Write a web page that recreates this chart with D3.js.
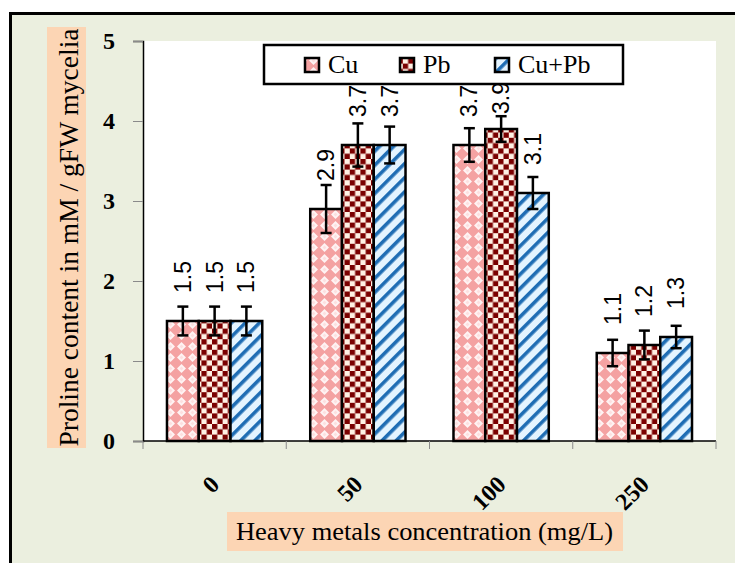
<!DOCTYPE html>
<html>
<head>
<meta charset="utf-8">
<script src="https://cdn.jsdelivr.net/npm/d3@7"></script>
<style>
  body { margin: 0; background: #fff; }
  svg { display: block; }
</style>
</head>
<body>
<div id="chart"></div>
<script>
// data
const concentrations = ["0", "50", "100", "250"];
const seriesNames = ["Cu", "Pb", "Cu+Pb"];
const cuValues = [1.5, 2.9, 3.7, 1.1];
const pbValues = [1.5, 3.7, 3.9, 1.2];
const cupbValues = [1.5, 3.7, 3.1, 1.3];
const cuErrors = [0.18, 0.3, 0.21, 0.165];
const pbErrors = [0.18, 0.27, 0.16, 0.18];
const cupbErrors = [0.18, 0.23, 0.2, 0.14];
const yTicks = [0, 1, 2, 3, 4, 5];

const width = 735, height = 563;
const plot = { left: 143, right: 716, top: 41, bottom: 441 };
const serif = "'Liberation Serif', 'Times New Roman', serif";
const sans = "'Liberation Sans', Arial, sans-serif";

const values = [cuValues, pbValues, cupbValues];
const errors = [cuErrors, pbErrors, cupbErrors];
const rows = [];
seriesNames.forEach((s, si) => {
  concentrations.forEach((c, ci) => {
    rows.push({ series: s, si, cat: c, value: values[si][ci], err: errors[si][ci] });
  });
});

const svg = d3.select("#chart").append("svg")
  .attr("width", width).attr("height", height);

// patterns
const defs = svg.append("defs");
const pCu = defs.append("pattern").attr("id", "pat-cu")
  .attr("patternUnits", "userSpaceOnUse").attr("width", 11).attr("height", 11);
pCu.append("rect").attr("width", 11).attr("height", 11).attr("fill", "#f4a2a2");
pCu.append("polygon").attr("points", "5.5,1 10,5.5 5.5,10 1,5.5").attr("fill", "#fff4f4");
pCu.append("polygon").attr("points", "5.5,3.5 7.5,5.5 5.5,7.5 3.5,5.5").attr("fill", "#fde0e0");

const pPb = defs.append("pattern").attr("id", "pat-pb")
  .attr("patternUnits", "userSpaceOnUse").attr("width", 10.6).attr("height", 10.6);
pPb.append("rect").attr("width", 10.6).attr("height", 10.6).attr("fill", "#fff1e4");
pPb.append("rect").attr("width", 5.3).attr("height", 5.3).attr("fill", "#7a0000");
pPb.append("rect").attr("x", 5.3).attr("y", 5.3).attr("width", 5.3).attr("height", 5.3).attr("fill", "#7a0000");

const pMix = defs.append("pattern").attr("id", "pat-mix")
  .attr("patternUnits", "userSpaceOnUse").attr("width", 10).attr("height", 10)
  .attr("patternTransform", "rotate(45)");
pMix.append("rect").attr("width", 10).attr("height", 10).attr("fill", "#e4f4ff");
pMix.append("rect").attr("x", 0).attr("width", 3.6).attr("height", 10).attr("fill", "#1f6db4");

const fills = { "Cu": "url(#pat-cu)", "Pb": "url(#pat-pb)", "Cu+Pb": "url(#pat-mix)" };

// outer frame
svg.append("rect")
  .attr("x", 10.5).attr("y", 13.5).attr("width", 800).attr("height", 600)
  .attr("fill", "#ebefdf").attr("stroke", "#000").attr("stroke-width", 3);

// plot area
svg.append("rect")
  .attr("x", plot.left).attr("y", plot.top)
  .attr("width", plot.right - plot.left).attr("height", plot.bottom - plot.top)
  .attr("fill", "#fff");

const x = d3.scaleBand().domain(concentrations).range([plot.left, plot.right]);
const xs = d3.scaleBand().domain(seriesNames).range([0, x.bandwidth()]).paddingOuter(0.755);
const y = d3.scaleLinear().domain([0, 5]).range([plot.bottom, plot.top]);

// y axis
const yAxis = svg.append("g").attr("transform", `translate(${plot.left},0)`)
  .call(d3.axisLeft(y).tickValues(yTicks).tickSize(10).tickPadding(18).tickFormat(d3.format("d")));
yAxis.select(".domain").attr("stroke", "#000").attr("stroke-width", 1.5);
yAxis.selectAll(".tick line").attr("stroke", "#8a8a8a");
yAxis.selectAll(".tick text")
  .attr("font-family", serif).attr("font-size", 24).attr("font-weight", "bold").attr("fill", "#000");

// x axis: ticks at category boundaries
const xBoundaries = concentrations.map(c => x(c)).concat([plot.right]);
const xAxis = svg.append("g").attr("transform", `translate(0,${plot.bottom})`);
xAxis.append("line").attr("x1", plot.left).attr("x2", plot.right)
  .attr("stroke", "#000").attr("stroke-width", 1.5);
xAxis.selectAll("line.tk").data(xBoundaries).join("line").attr("class", "tk")
  .attr("x1", d => d).attr("x2", d => d).attr("y1", 0).attr("y2", 8)
  .attr("stroke", "#8a8a8a");
xAxis.selectAll("text").data(concentrations).join("text")
  .attr("transform", d => `translate(${x(d) + x.bandwidth() / 2 + 6},${45}) rotate(-45)`)
  .attr("text-anchor", "end")
  .attr("font-family", serif).attr("font-size", 24).attr("font-weight", "bold")
  .text(d => d);

// bars
const bars = svg.append("g");
bars.selectAll("rect").data(rows).join("rect")
  .attr("x", d => x(d.cat) + xs(d.series))
  .attr("y", d => y(d.value))
  .attr("width", xs.bandwidth())
  .attr("height", d => y(0) - y(d.value))
  .attr("fill", d => fills[d.series])
  .attr("stroke", "#000").attr("stroke-width", 2.5);

// error bars
const eb = svg.append("g").attr("stroke", "#000").attr("stroke-width", 2.5);
rows.forEach(d => {
  const cx = x(d.cat) + xs(d.series) + xs.bandwidth() / 2;
  const y1 = y(d.value + d.err), y2 = y(d.value - d.err);
  eb.append("line").attr("x1", cx).attr("x2", cx).attr("y1", y1).attr("y2", y2);
  eb.append("line").attr("x1", cx - 5.5).attr("x2", cx + 5.5).attr("y1", y1).attr("y2", y1);
  eb.append("line").attr("x1", cx - 5.5).attr("x2", cx + 5.5).attr("y1", y2).attr("y2", y2);
});

// value labels, kept from running off the top (they get pushed down like Excel does)
const labels = svg.append("g").selectAll("text").data(rows).join("text")
  .attr("font-family", sans).attr("font-size", 23).attr("fill", "#000")
  .text(d => d3.format(".1f")(d.value));
labels.each(function (d) {
  const len = this.getComputedTextLength();
  const base = Math.max(y(d.value) - 28, 82 + len);
  const cx = x(d.cat) + xs(d.series) + xs.bandwidth() / 2 + 8;
  d3.select(this).attr("transform", `translate(${cx},${base}) rotate(-90)`);
});

// y title
svg.append("rect").attr("x", 47).attr("y", 27).attr("width", 39).attr("height", 421).attr("fill", "#fcd5b4");
svg.append("text")
  .attr("transform", "translate(78,237.5) rotate(-90)")
  .attr("text-anchor", "middle")
  .attr("font-family", serif).attr("font-size", 27)
  .attr("textLength", 418).attr("lengthAdjust", "spacingAndGlyphs")
  .text("Proline content in mM / gFW mycelia");

// x title
svg.append("rect").attr("x", 227).attr("y", 512).attr("width", 396).attr("height", 39).attr("fill", "#fcd5b4");
svg.append("text")
  .attr("x", 424.5).attr("y", 540)
  .attr("text-anchor", "middle")
  .attr("font-family", serif).attr("font-size", 26)
  .attr("textLength", 377).attr("lengthAdjust", "spacingAndGlyphs")
  .text("Heavy metals concentration (mg/L)");

// legend
const lg = svg.append("g");
lg.append("rect").attr("x", 264).attr("y", 45).attr("width", 359).attr("height", 39)
  .attr("fill", "#fff").attr("stroke", "#000").attr("stroke-width", 2.5);
const legendX = [305, 400, 495];
seriesNames.forEach((s, i) => {
  lg.append("rect").attr("x", legendX[i]).attr("y", 58).attr("width", 14).attr("height", 14)
    .attr("fill", fills[s]).attr("stroke", "#000").attr("stroke-width", 2.5);
  lg.append("text").attr("x", legendX[i] + 23).attr("y", 73)
    .attr("font-family", serif).attr("font-size", 26).text(s);
});
</script>
</body>
</html>
